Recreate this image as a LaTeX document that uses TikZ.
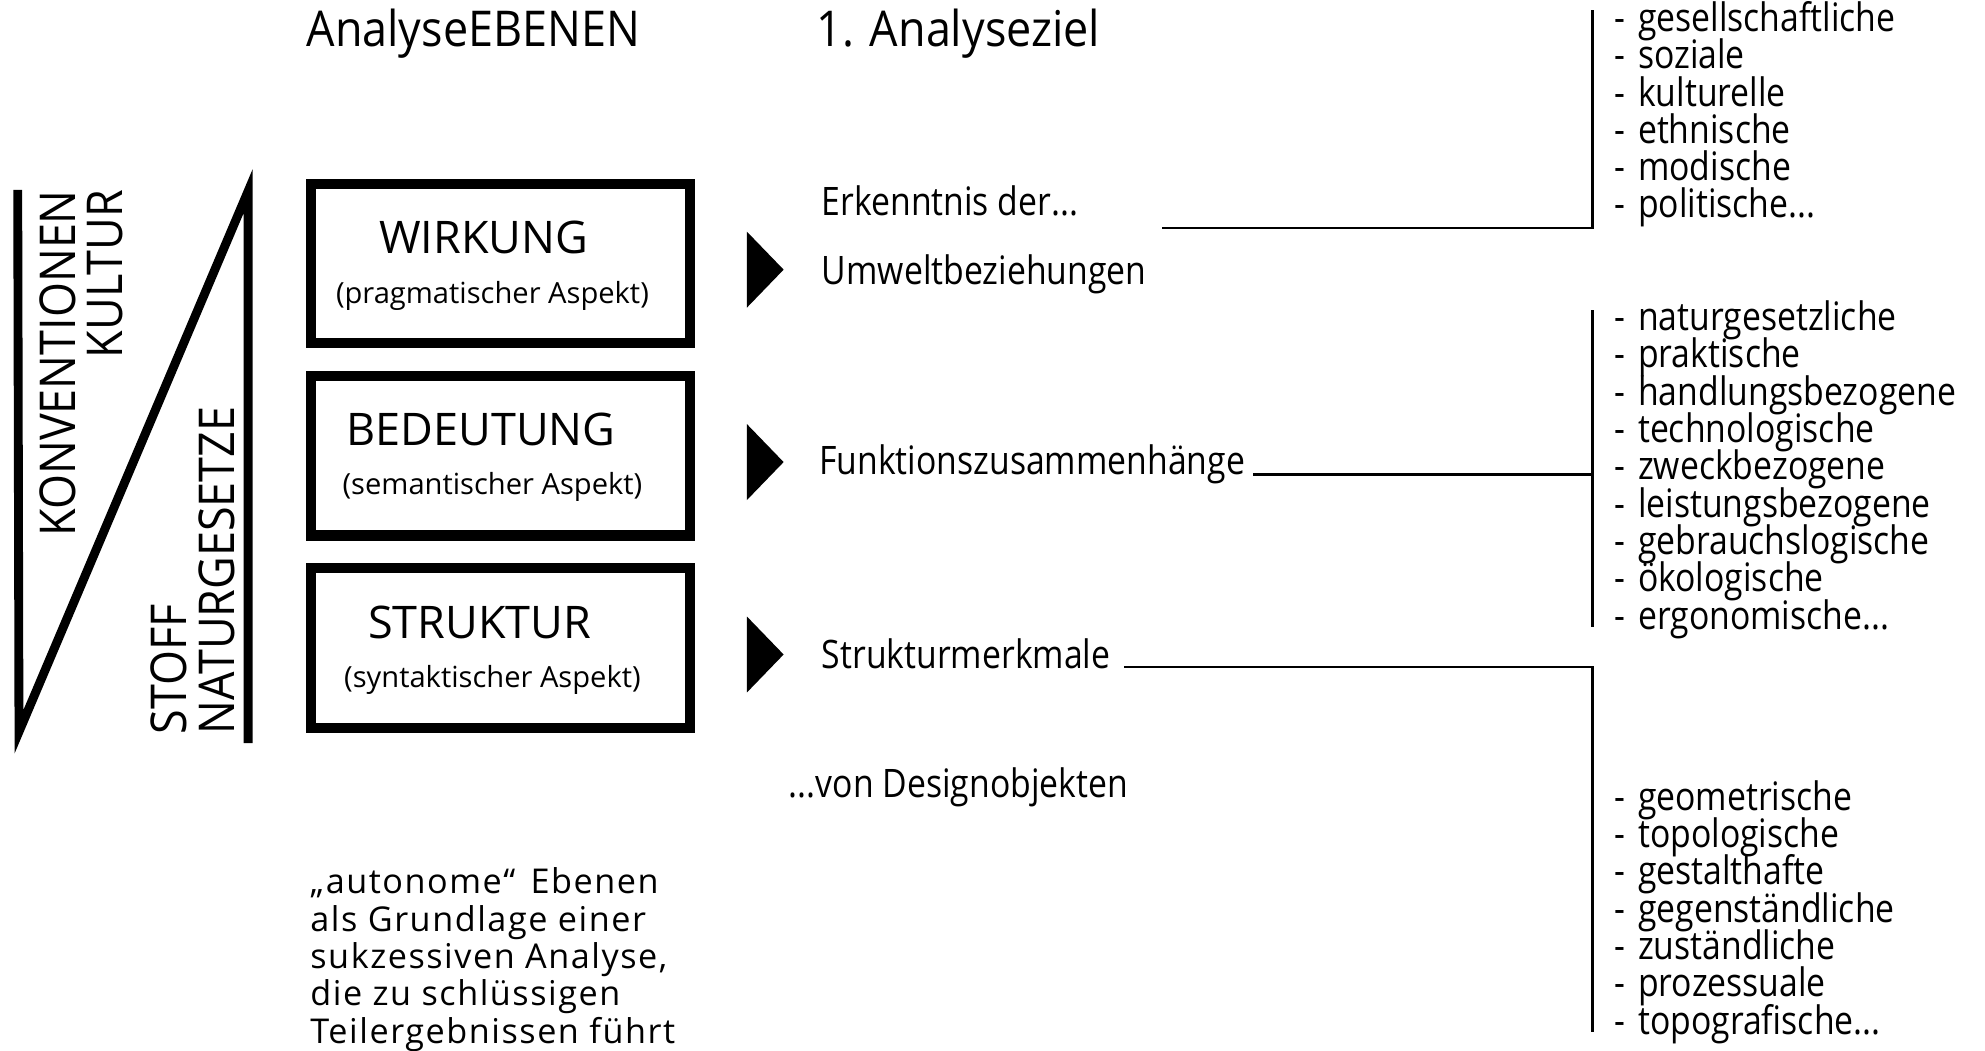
\documentclass[tikz,border=0pt]{standalone}
\usepackage{fontspec}
\setmainfont{Open Sans}
\newfontfamily\condf{Open Sans}[FakeStretch=0.86]
\newfontfamily\headf{Open Sans}[FakeStretch=0.91]
\newfontfamily\widef{Open Sans}[LetterSpace=4.5]
\newcommand\tdots{...}
\newcommand\dsh{-\hspace{0.33em}}
\begin{document}
\begin{tikzpicture}[x=1pt,y=-1pt,
  hd/.style={font=\headf\fontsize{39}{39}\selectfont, inner sep=0pt, anchor=base west},
  vert/.style={font=\headf\fontsize{39}{39}\selectfont, inner sep=0pt, rotate=90},
  ttl/.style={font=\fontsize{35.5}{36}\selectfont, inner sep=0pt, anchor=base},
  sub/.style={font=\fontsize{23}{23}\selectfont, inner sep=0pt, anchor=base},
  txt/.style={font=\condf\fontsize{31}{29.4}\selectfont, inner sep=0pt, anchor=base west},
  wide/.style={font=\widef\fontsize{27}{29.5}\selectfont, inner sep=0pt, anchor=base west},
  lvl/.style={draw, line width=8pt, minimum width=299pt, minimum height=126pt, inner sep=0pt},
  conn/.style={line width=2pt},
  thick line/.style={line width=7pt, miter limit=10, line join=miter},
  tri/.style={fill=black}
]
\path[use as bounding box] (0,0) rectangle (1568,830);

% left figure
\draw[thick line] (14,150) -- (15,578) -- (196,151) -- (196,587);
\node[vert, anchor=base east] (konv) at (60,150) {KONVENTIONEN};
\node[vert, anchor=base east] (kult) at (97,150) {KULTUR};
\node[vert, anchor=base west] (stoff) at (147,580) {STOFF};
\node[vert, anchor=base west] (natur) at (185,580) {NATURGESETZE};

% headers
\node[hd] (hebenen) at (242,37) {AnalyseEBENEN};
\node[hd] (hziel) at (645,37) {1. Analyseziel};

% boxes
\node[lvl] (b1) at (395.5,208) {};
\node[lvl] (b2) at (395.5,360) {};
\node[lvl] (b3) at (395.5,512) {};
\node[ttl] (t1) at (382,200) {WIRKUNG};
\node[sub] (s1) at (389,240) {(pragmatischer Aspekt)};
\node[ttl] (t2) at (380,352) {BEDEUTUNG};
\node[sub] (s2) at (389,391) {(semantischer Aspekt)};
\node[ttl] (t3) at (379,504) {STRUKTUR};
\node[sub] (s3) at (389,543) {(syntaktischer Aspekt)};

% arrowheads
\fill[tri] (590,183) -- (590,243) -- (619,213) -- cycle;
\fill[tri] (590,335) -- (590,395) -- (619,365) -- cycle;
\fill[tri] (590,487) -- (590,547) -- (619,517) -- cycle;

% middle texts
\node[txt] (erk) at (649,170) {Erkenntnis der...};
\node[txt] (umw) at (649,225) {Umweltbeziehungen};
\node[txt] (funk) at (647,375) {Funktionszusammenhänge};
\node[txt] (strm) at (649,528) {Strukturmerkmale};
\node[txt] (von) at (623,630) {...von Designobjekten};

% lists
\foreach \t [count=\i from 0] in {gesellschaftliche,soziale,kulturelle,ethnische,modische,politische\tdots}
  \node[txt] (la\i) at (1275,25+29.4*\i) {\dsh\t};
\foreach \t [count=\i from 0] in {naturgesetzliche,praktische,handlungsbezogene,technologische,zweckbezogene,leistungsbezogene,gebrauchslogische,ökologische,ergonomische\tdots}
  \node[txt] (lb\i) at (1275,261+29.5*\i) {\dsh\t};
\foreach \t [count=\i from 0] in {geometrische,topologische,gestalthafte,gegenständliche,zuständliche,prozessuale,topografische\tdots}
  \node[txt] (lc\i) at (1275,640+29.5*\i) {\dsh\t};

% connectors
\coordinate (c1s) at (918,180);
\coordinate (c1j) at (1258,180);
\coordinate (c1t) at (1258,8);
\draw[conn] (c1s) -- (c1j) -- (c1t);
\coordinate (c2s) at (990,375);
\coordinate (c2j) at (1258,375);
\coordinate (c2t) at (1258,245);
\coordinate (c2b) at (1258,495);
\draw[conn] (c2s) -- (c2j);
\draw[conn] (c2t) -- (c2b);
\coordinate (c3s) at (888,527);
\coordinate (c3j) at (1258,527);
\coordinate (c3b) at (1258,815);
\draw[conn] (c3s) -- (c3j) -- (c3b);

% bottom text
\node[wide] (w1) at (245,706) {„autonome“\hspace{0.45em}Ebenen};
\node[wide] (w2) at (245,735.5) {als Grundlage einer};
\node[wide] (w3) at (245,765) {sukzessiven Analyse,};
\node[wide] (w4) at (245,794.5) {die zu schlüssigen};
\node[wide] (w5) at (245,824) {Teilergebnissen führt};
\end{tikzpicture}
\end{document}
